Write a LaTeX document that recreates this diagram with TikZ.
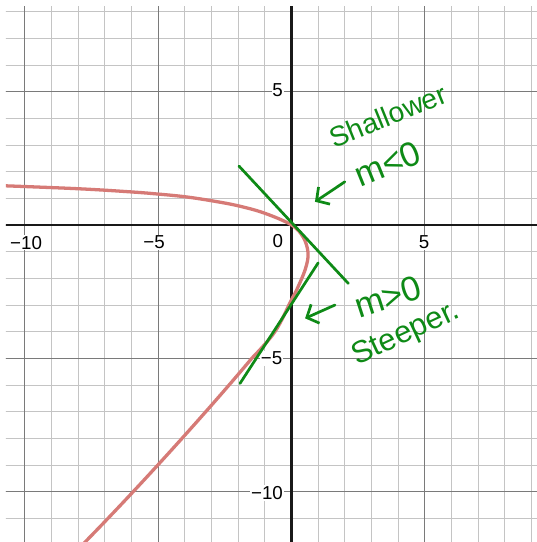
\documentclass[tikz,border=0pt]{standalone}
\usepackage{fontspec}
\setmainfont{Liberation Sans}
\usetikzlibrary{arrows.meta}
\definecolor{gridminor}{HTML}{C4C4C4}
\definecolor{gridmajor}{HTML}{7A7A7A}
\definecolor{curvered}{HTML}{D67A76}
\definecolor{inkgreen}{HTML}{0E8A16}

\begin{document}
\begin{tikzpicture}[
    minor/.style={draw=gridminor, line width=1pt},
    major/.style={draw=gridmajor, line width=1.2pt},
    axis/.style={draw=black!90, line width=2.2pt},
    ticklabel/.style={fill=white, inner sep=1pt, font=\fontsize{20}{24}\selectfont},
    curve/.style={draw=curvered, line width=3.5pt, line cap=round, line join=round},
    tangent/.style={draw=inkgreen, line width=2.9pt, line cap=round},
    note/.style={text=inkgreen, font=\fontsize{30}{36}\selectfont, rotate=22, inner sep=0pt},
    bignote/.style={note, font=\fontsize{37}{40}\selectfont},
    notearrow/.style={tangent, -{Straight Barb[length=10pt, width=22pt]}}
]

\useasboundingbox (-10.93,-11.886) rectangle (9.205,8.437);
\fill[white] (-10.93,-11.886) rectangle (9.205,8.437);

\begin{scope}
    \clip (-10.71,-11.886) rectangle (9.205,8.21);
    % grid
    \foreach \x in {-11,...,9} \draw[minor] (\x,-12) -- (\x,9);
    \foreach \y in {-12,...,8} \draw[minor] (-11,\y) -- (10,\y);
    \foreach \v in {-10,-5,5} {
        \draw[major] (\v,-12) -- (\v,9);
        \draw[major] (-11,\v) -- (10,\v);
    }
    \draw[axis] (0,-12) -- (0,9);
    \draw[axis] (-11,0) -- (10,0);

    % tick labels
    \node[ticklabel] (xm10) at (-9.95,-0.66) {−10};
    \node[ticklabel] (xm5) at (-5.15,-0.66) {−5};
    \node[ticklabel] (xorigin) at (-0.51,-0.6) {0};
    \node[ticklabel] (x5) at (4.97,-0.66) {5};
    \node[ticklabel, anchor=east] (y5) at (-0.28,5.06) {5};
    \node[ticklabel, anchor=east] (ym5) at (-0.3,-5) {−5};
    \node[ticklabel, anchor=east] (ym10) at (-0.28,-10.05) {−10};

    % the curve
    \draw[curve] plot[smooth, tension=0.6] coordinates {
        (-11,1.48) (-8,1.36) (-6,1.24) (-5,1.16) (-4,1.06) (-3,0.91)
        (-2,0.72) (-1,0.44) (0,0) (0.44,-0.46) (0.62,-1.05) (0.52,-1.65)
        (0.2,-2.42) (0,-2.8) (-0.62,-4) (-1.49,-5)}
        .. controls (-2.7,-6.45) and (-5.3,-9.4) .. (-7.8,-11.95);
\end{scope}

% tangent lines
\coordinate (topA) at (-1.97,2.21);
\coordinate (botA) at (2.13,-2.19);
\coordinate (topB) at (1.0,-1.42);
\coordinate (botB) at (-1.93,-5.94);
\draw[tangent] (topA) -- (botA);
\draw[tangent] (botB) -- (topB);

% notes
\node[note] (shallow) at (3.62,4.1) {Shallower};
\node[bignote] (mneg) at (3.6,2.3) {m<0};
\node[bignote, rotate=-4] (mpos) at (3.62,-2.7) {m>0};
\node[note, font=\fontsize{33}{36}\selectfont, rotate=3] (steep) at (4.3,-4.1) {Steeper.};

\coordinate (tailA) at (2.0,1.62);
\coordinate (tipA) at (0.88,0.87);
\coordinate (tailB) at (1.63,-3.0);
\coordinate (tipB) at (0.51,-3.5);
\draw[notearrow] (tailA) -- (tipA);
\draw[notearrow] (tailB) -- (tipB);

\end{tikzpicture}
\end{document}
